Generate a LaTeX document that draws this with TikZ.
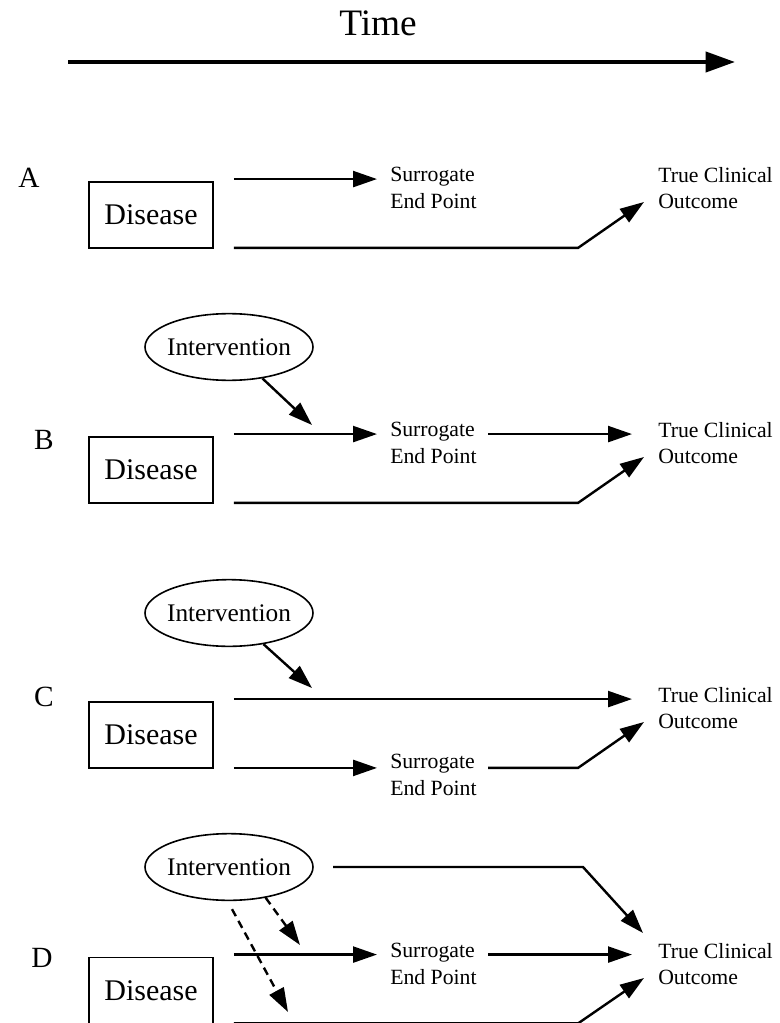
\documentclass[tikz,border=0pt]{standalone}
\usepackage{fontspec}
\setmainfont{Liberation Serif}
\usetikzlibrary{arrows.meta,shapes.geometric,calc}
\begin{document}
\begin{tikzpicture}[x=0.75pt,y=-0.75pt,
  arr/.style={line width=1.8pt,-{Triangle[length=18pt,width=12pt]}},
  darr/.style={line width=1.8pt,dash pattern=on 6pt off 4pt,-{Triangle[length=18pt,width=12pt]}},
  tarr/.style={line width=3pt,-{Triangle[length=22pt,width=15pt]}},
  dbox/.style={draw,line width=1.4pt,minimum width=93pt,minimum height=49.5pt,inner sep=0pt,font=\fontsize{22.5}{25}\selectfont},
  ell/.style={ellipse,draw,line width=1.2pt,minimum width=126pt,minimum height=50pt,inner xsep=-2.5pt,inner ysep=0pt,font=\fontsize{19}{22}\selectfont},
  txt/.style={align=left,inner sep=0pt,anchor=west,font=\fontsize{16.3}{20}\selectfont},
  lab/.style={inner sep=0pt,font=\fontsize{22}{24}\selectfont},
  ttl/.style={inner sep=0pt,font=\fontsize{28}{30}\selectfont}]
\useasboundingbox (0,0) rectangle (780,1023);

% Time axis
\node[ttl] (time) at (378,23) {Time};
\coordinate (t0) at (68,62);
\coordinate (t1) at (735,62);
\draw[tarr] (t0) -- (t1);

% Panel A
\node[lab] (la) at (29,178) {A};
\node[dbox] (da) at (151,215) {Disease};
\node[txt] (sa) at (390,188) {Surrogate\\End Point};
\node[txt] (ta) at (658,188) {True Clinical\\Outcome};
\coordinate (a1) at ($(da.north east)+(20,-2)$);
\coordinate (a2) at ($(da.south east)+(20,-1)$);
\coordinate (ka) at (a2 -| 578,0);
\draw[arr] (a1) -- ($(a1 -| sa.west)+(-13,0)$);
\draw[arr] (a2) -- (ka) -- ($(ta.west)+(-14,14)$);

% Panel B
\node[ell] (ib) at (229,347) {Intervention};
\coordinate (bt) at (312,425);
\node[lab] (lb) at (44,440) {B};
\node[dbox] (db) at (151,470) {Disease};
\node[txt] (sb) at (390,443) {Surrogate\\End Point};
\node[txt] (tb) at (658,443) {True Clinical\\Outcome};
\coordinate (b1) at ($(db.north east)+(20,-2)$);
\coordinate (b2) at ($(db.south east)+(20,-1)$);
\coordinate (kb) at (b2 -| 578,0);
\draw[arr] (ib) -- (bt);
\draw[arr] (b1) -- ($(b1 -| sb.west)+(-13,0)$);
\draw[arr] ($(b1 -| sb.west)+(98,0)$) -- ($(b1 -| tb.west)+(-26,0)$);
\draw[arr] (b2) -- (kb) -- ($(tb.west)+(-14,14)$);

% Panel C
\node[ell] (ic) at (229,613) {Intervention};
\coordinate (ct) at (312,688);
\node[lab] (lc) at (44,697) {C};
\node[dbox] (dc) at (151,735) {Disease};
\node[txt] (tc) at (658,708) {True Clinical\\Outcome};
\node[txt] (sc) at (390,775) {Surrogate\\End Point};
\coordinate (c1) at ($(dc.north east)+(20,-2)$);
\coordinate (c2) at ($(dc.south east)+(20,-1)$);
\coordinate (kc) at (c2 -| 578,0);
\draw[arr] (ic) -- (ct);
\draw[arr] (c1) -- ($(c1 -| tc.west)+(-26,0)$);
\draw[arr] (c2) -- ($(c2 -| sc.west)+(-13,0)$);
\draw[arr] ($(c2 -| sc.west)+(98,0)$) -- (kc) -- ($(tc.west)+(-14,14)$);

% Panel D
\node[ell] (id) at (229,867) {Intervention};
\coordinate (kd1) at (583,867);
\coordinate (dt1) at (300,945);
\coordinate (dt2) at (288,1012);
\node[lab] (ld) at (42,958) {D};
\node[dbox] (dd) at (151,990.5) {Disease};
\node[txt] (sd) at (390,964) {Surrogate\\End Point};
\node[txt] (td) at (658,964) {True Clinical\\Outcome};
\coordinate (d1) at ($(dd.north east)+(20,-2)$);
\coordinate (d2) at ($(dd.south east)+(20,-1)$);
\coordinate (kd) at (d2 -| 578,0);
\draw[arr] (id.east -| 333,0) -- (kd1) -- ($(td.west)+(-15,-31)$);
\draw[darr] (id.-40) -- (dt1);
\draw[darr] ($(id.south)+(3,8)$) -- (dt2);
\draw[arr] (d1) -- ($(d1 -| sd.west)+(-13,0)$);
\draw[arr] ($(d1 -| sd.west)+(98,0)$) -- ($(d1 -| td.west)+(-26,0)$);
\draw[arr] (d2) -- (kd) -- ($(td.west)+(-14,14)$);
\end{tikzpicture}
\end{document}
